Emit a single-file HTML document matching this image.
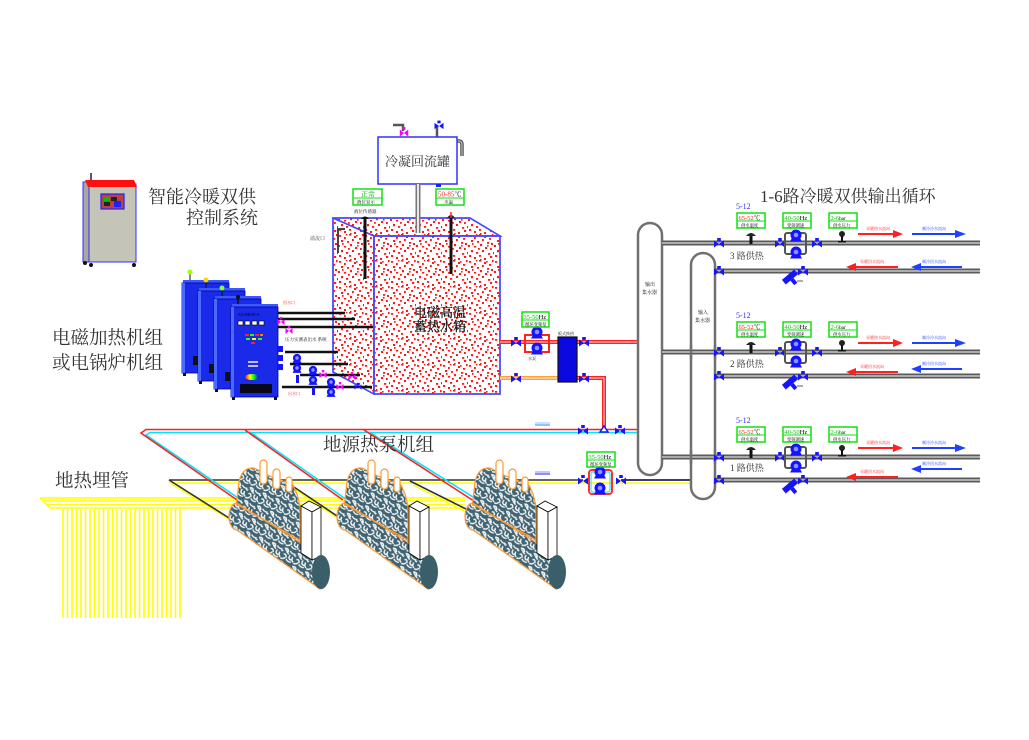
<!DOCTYPE html>
<html><head><meta charset="utf-8">
<style>
html,body{margin:0;padding:0;background:#fff;}
svg{display:block;}
text{font-family:"Liberation Serif","Noto Serif CJK SC",serif;}
.cj{font-family:"Liberation Serif","Noto Serif CJK SC",serif;fill:#333;}
</style></head><body>
<svg width="1029" height="740" viewBox="0 0 1029 740" xmlns="http://www.w3.org/2000/svg">
<defs>
 <pattern id="rs" width="26" height="26" patternUnits="userSpaceOnUse">
  <g fill="#ff1a1a">
   <rect x="1" y="1" width="2.2" height="1.8"/><rect x="6" y="3" width="1.8" height="2.2"/>
   <rect x="11" y="0" width="2.4" height="1.6"/><rect x="16" y="2" width="2" height="2"/>
   <rect x="21" y="4" width="2.2" height="1.8"/><rect x="24" y="0" width="1.6" height="2.2"/>
   <rect x="3" y="6" width="2.2" height="2"/><rect x="9" y="7" width="2" height="1.8"/>
   <rect x="14" y="5" width="1.8" height="2.2"/><rect x="19" y="8" width="2.2" height="1.8"/>
   <rect x="23" y="9" width="2" height="2"/><rect x="0" y="11" width="2" height="2"/>
   <rect x="6" y="12" width="2.2" height="1.6"/><rect x="12" y="10" width="2" height="2.2"/>
   <rect x="17" y="13" width="2.2" height="2"/><rect x="22" y="14" width="1.8" height="2"/>
   <rect x="3" y="16" width="2" height="2.2"/><rect x="8" y="18" width="2.2" height="1.8"/>
   <rect x="14" y="16" width="2" height="2"/><rect x="20" y="19" width="2.2" height="1.8"/>
   <rect x="25" y="18" width="1" height="2.2"/><rect x="1" y="21" width="2.2" height="2"/>
   <rect x="6" y="23" width="2" height="2"/><rect x="11" y="21" width="2.2" height="1.8"/>
   <rect x="16" y="24" width="2" height="2"/><rect x="22" y="22" width="2.2" height="2"/>
   <rect x="10" y="14" width="1.8" height="1.8"/><rect x="18" y="1" width="1.6" height="1.6"/>
   <rect x="4" y="9" width="1.6" height="1.8"/><rect x="12" y="25" width="1.6" height="1"/>
   <rect x="19" y="11" width="1.6" height="1.6"/><rect x="8" y="0" width="1.4" height="1.4"/>
  </g>
 </pattern>
 <pattern id="gs" width="14" height="14" patternUnits="userSpaceOnUse" patternTransform="rotate(23)">
  <rect width="14" height="14" fill="#3f6473"/>
  <path d="M1,1 q3,-1 4,2 q-2,1 -4,-2 Z M7,2 q2,2 5,1 M2,7 q2,-1 3,2 M8,6 q-1,3 2,4 q2,-1 1,-3 M0,12 q3,0 4,-2 M6,11 q2,2 5,1 M11,9 l2,2 M4,4 l2,1 M12,4 q1,1 2,0" stroke="#f4f4f4" stroke-width="1.4" fill="none" stroke-linecap="round"/>
 </pattern>
 <linearGradient id="rb" x1="0" x2="1"><stop offset="0" stop-color="#ff0000"/><stop offset="0.35" stop-color="#ffff00"/><stop offset="0.65" stop-color="#00ff00"/><stop offset="1" stop-color="#0000ff"/></linearGradient>
 <g id="v"><path d="M-5,-3.5 L0,0 L-5,3.5Z M5,-3.5 L0,0 L5,3.5Z" fill="#1414ff"/><rect x="-1.8" y="-6" width="3.6" height="3" fill="#1414ff"/></g>
 <g id="p"><path d="M-6,6.5 L6,6.5 L3.5,2 L-3.5,2Z" fill="#1414ff"/><circle r="5.5" fill="#1414ff"/><circle r="2.3" fill="#9090ff"/></g>
 <g id="mv"><path d="M-3.5,-3 L0,0 L-3.5,3Z M3.5,-3 L0,0 L3.5,3Z" fill="#ff00ff"/><rect x="-1.2" y="-5" width="2.4" height="2.4" fill="#ff00ff"/></g>
 <g id="hp">
  <path d="M236,508 L239,482 Q242,467 254,468 L262,472 L270,476 L278,479 L286,482 L293,485 L297,494 L300,506 L300,542 L236,522 Z" fill="url(#gs)" stroke="#ff9a30" stroke-width="1.2"/>
  <rect x="260" y="460" width="7" height="24" rx="3.5" fill="#fff" stroke="#ff9a30" stroke-width="1.2"/>
  <rect x="273" y="469" width="7" height="20" rx="3.5" fill="#fff" stroke="#ff9a30" stroke-width="1.2"/>
  <rect x="286" y="477" width="6" height="15" rx="3" fill="#fff" stroke="#ff9a30" stroke-width="1.2"/>
  <path d="M237,503 L320,555 A9,17 0 0 1 320,589 L237,530 A8,13.5 0 0 1 237,503 Z" fill="url(#gs)" stroke="#ff9a30" stroke-width="1.2"/>
  <line x1="236" y1="504" x2="300" y2="540" stroke="#ff9a30" stroke-width="1.2"/>
  <path d="M301,506 L309,501 L321,507 L312,512 Z" fill="#fff" stroke="#000" stroke-width="0.8"/>
  <path d="M301,506 L312,512 L312,560 L301,553 Z" fill="#fff" stroke="#000" stroke-width="0.8"/>
  <path d="M312,512 L321,507 L321,556 L312,560 Z" fill="#fff" stroke="#000" stroke-width="0.8"/>
  <ellipse cx="321" cy="572" rx="9" ry="17" fill="#3a5f6a"/>
 </g>
</defs>

<rect width="1029" height="740" fill="#fff"/>

<!-- ground loop yellow -->
<g stroke="#ffff00" stroke-width="1.4" fill="none">
 <line x1="40" y1="498" x2="465" y2="498"/>
 <line x1="44" y1="501" x2="465" y2="501"/>
 <line x1="47" y1="504.5" x2="465" y2="504.5"/>
 <line x1="50" y1="508" x2="465" y2="508"/>
 <line x1="40" y1="498" x2="50" y2="508"/>
 <line x1="169" y1="483" x2="690" y2="483"/>
 <line x1="172" y1="484" x2="240" y2="526"/>
 <line x1="288" y1="485" x2="345" y2="523"/>
 <line x1="413" y1="485" x2="472" y2="515"/>
</g>
<g stroke="#ffff00" stroke-width="1.6">
 <line x1="63" y1="509" x2="63" y2="618"/><line x1="67.5" y1="509" x2="67.5" y2="618"/>
 <line x1="72" y1="509" x2="72" y2="618"/><line x1="76.5" y1="509" x2="76.5" y2="618"/>
 <line x1="81" y1="509" x2="81" y2="618"/><line x1="85.5" y1="509" x2="85.5" y2="618"/>
 <line x1="90" y1="509" x2="90" y2="618"/><line x1="94.5" y1="509" x2="94.5" y2="618"/>
 <line x1="99" y1="509" x2="99" y2="618"/><line x1="103.5" y1="509" x2="103.5" y2="618"/>
 <line x1="108" y1="509" x2="108" y2="618"/><line x1="112.5" y1="509" x2="112.5" y2="618"/>
 <line x1="117" y1="509" x2="117" y2="618"/><line x1="121.5" y1="509" x2="121.5" y2="618"/>
 <line x1="126" y1="509" x2="126" y2="618"/><line x1="130.5" y1="509" x2="130.5" y2="618"/>
 <line x1="135" y1="509" x2="135" y2="618"/><line x1="139.5" y1="509" x2="139.5" y2="618"/>
 <line x1="144" y1="509" x2="144" y2="618"/><line x1="148.5" y1="509" x2="148.5" y2="618"/>
 <line x1="153" y1="509" x2="153" y2="618"/><line x1="157.5" y1="509" x2="157.5" y2="618"/>
 <line x1="162" y1="509" x2="162" y2="618"/><line x1="166.5" y1="509" x2="166.5" y2="618"/>
 <line x1="171" y1="509" x2="171" y2="618"/><line x1="175.5" y1="509" x2="175.5" y2="618"/>
 <line x1="180" y1="509" x2="180" y2="618"/>
</g>

<!-- black source lines -->
<g stroke="#333" stroke-width="1.6" fill="none">
 <line x1="169" y1="480" x2="583" y2="480"/>
 <line x1="169" y1="480" x2="237" y2="523"/>
 <line x1="285" y1="481" x2="343" y2="520"/>
 <line x1="410" y1="481" x2="470" y2="511"/>
</g>
<line x1="621" y1="480" x2="691" y2="480" stroke="#202060" stroke-width="1.8"/>

<!-- red / cyan loops -->
<g fill="none" stroke-width="1.6">
 <polyline points="640,432.5 150,432.5 146,435 241,500" stroke="#00e5ff"/>
 <polyline points="640,429.5 146,429.5 141,433 237,500" stroke="#ff2020"/>
 <line x1="250" y1="432" x2="347" y2="500" stroke="#00e5ff"/>
 <line x1="245" y1="430" x2="343" y2="500" stroke="#ff2020"/>
 <line x1="369" y1="432" x2="481" y2="502" stroke="#00e5ff"/>
 <line x1="364" y1="430" x2="477" y2="503" stroke="#ff2020"/>
</g>

<!-- heat pump units -->
<use href="#hp"/>
<use href="#hp" transform="translate(108,0)"/>
<use href="#hp" transform="translate(236,0)"/>

<!-- labels -->
<text x="148" y="203" font-size="18" class="cj">智能冷暖双供</text>
<text x="186" y="224" font-size="18" class="cj">控制系统</text>
<text x="52" y="344" font-size="18.5" class="cj">电磁加热机组</text>
<text x="52" y="369" font-size="18.5" class="cj">或电锅炉机组</text>
<text x="55" y="487" font-size="18.5" class="cj">地热埋管</text>
<text x="323" y="451" font-size="18.5" class="cj">地源热泵机组</text>
<text x="760" y="202" font-size="17" class="cj">1-6路冷暖双供输出循环</text>

<!-- control cabinet -->
<line x1="91" y1="173" x2="91" y2="181" stroke="#222" stroke-width="1.5"/>
<rect x="83" y="182" width="9" height="80" fill="#a8a8a0" stroke="#3030ff" stroke-width="1"/>
<rect x="89" y="184" width="47" height="78" fill="#c4c4b8" stroke="#3030ff" stroke-width="1"/>
<path d="M85,180 L134,180 L137,187 L88,187 Z" fill="#ff1010"/>
<rect x="101" y="194" width="23" height="15" fill="#c04040" stroke="#2020ff" stroke-width="1.2"/>
<rect x="104" y="197" width="6" height="4" fill="#00c000"/><rect x="111" y="197" width="6" height="4" fill="#222"/>
<rect x="104" y="202" width="6" height="4" fill="#222"/><rect x="114" y="201" width="7" height="6" fill="#2020ff"/>
<circle cx="85" cy="263" r="2" fill="#111"/><circle cx="91" cy="265" r="2" fill="#111"/><circle cx="134" cy="265" r="2" fill="#111"/>

<!-- condensate tank -->
<path d="M393,125 L403,125 L403,131" stroke="#555" stroke-width="2.5" fill="none"/>
<use href="#mv" transform="translate(404,133) scale(1.2)"/>
<line x1="437" y1="137" x2="437" y2="126" stroke="#555" stroke-width="2.5"/>
<use href="#v" transform="translate(439,126) scale(0.9)"/>
<path d="M457,141 L459,141 Q462,141 462,145 L462,156" stroke="#555" stroke-width="3.5" fill="none"/>
<path d="M457,141 L459,141 Q462,141 462,145 L462,156" stroke="#ccc" stroke-width="1" fill="none"/>
<rect x="378" y="137" width="79" height="47" fill="#fff" stroke="#3030ff" stroke-width="1.5"/>
<text x="385" y="166" font-size="13" class="cj">冷凝回流罐</text>
<rect x="436" y="184" width="5" height="3" fill="#2020ff"/>

<!-- storage tank -->
<g stroke="#4848ff" stroke-width="1.5">
 <path d="M333,218 L470,218 L500,236 L374,236 Z" fill="#fff"/>
 <path d="M333,218 L374,236 L374,394 L333,372 Z" fill="#fff"/>
 <rect x="374" y="236" width="126" height="158" fill="#fff"/>
</g>
<path d="M333,218 L470,218 L500,236 L500,394 L374,394 L333,372 Z" fill="url(#rs)"/>
<g stroke="#4848ff" stroke-width="1.5" fill="none">
 <path d="M333,218 L470,218 L500,236 L374,236 Z"/>
 <path d="M333,218 L374,236 L374,394 L333,372 Z"/>
 <rect x="374" y="236" width="126" height="158"/>
</g>
<text x="414" y="317" font-size="13" fill="#1a1a1a" stroke="#1a1a1a" stroke-width="0.3">电磁高温</text>
<text x="414" y="331" font-size="13" fill="#1a1a1a" stroke="#1a1a1a" stroke-width="0.3">蓄热水箱</text>
<!-- tank fittings -->
<path d="M345,229 L338,229 L338,253" stroke="#444" stroke-width="2" fill="none"/>
<text x="310" y="240" font-size="5" fill="#444">溢流口</text>
<rect x="415.5" y="184" width="5" height="49" fill="#777"/>
<rect x="417" y="184" width="2" height="49" fill="#e8e8e8"/>
<path d="M361,219 Q365,214 369,219 Z" fill="#111"/>
<rect x="363.5" y="219" width="3" height="60" fill="#111"/>
<text x="354" y="213" font-size="4.5" fill="#111">液位传感器</text>
<path d="M447,218 Q451,212 455,218 Z" fill="#222"/>
<line x1="451" y1="212" x2="451" y2="222" stroke="#ff2020" stroke-width="1.5"/>
<rect x="449.5" y="218" width="3" height="56" fill="#111"/>
<g transform="translate(353,189)"><rect width="29" height="16" fill="#fff" stroke="#10e010" stroke-width="1.5"/><line x1="0" y1="9" x2="29" y2="9" stroke="#10e010"/><text x="8" y="7.5" font-size="7" fill="#10c010">正常</text><text x="4" y="14.5" font-size="4.5" fill="#000">液位显示</text></g>
<g transform="translate(436,189)"><rect width="28" height="16" fill="#fff" stroke="#10e010" stroke-width="1.5"/><line x1="0" y1="9" x2="28" y2="9" stroke="#10e010"/><text x="2" y="7.5" font-size="7" fill="#ff2020">50-85<tspan fill="#000">℃</tspan></text><text x="8" y="14.5" font-size="4.5" fill="#000">水温</text></g>

<!-- boilers -->
<g>
 <g>
  <rect x="183" y="280" width="46" height="3" fill="#3a5aff"/>
  <rect x="182" y="283" width="47" height="90" fill="#1a2ae8" stroke="#0000a0" stroke-width="0.8"/>
  <rect x="182" y="283" width="3" height="90" fill="#4a6aff"/>
  <line x1="190" y1="280" x2="190" y2="273" stroke="#111"/><circle cx="190" cy="272" r="2.5" fill="#a0ff00"/>
  <rect x="193" y="356" width="5" height="9" fill="#111"/>
  <rect x="183" y="373" width="3" height="3" fill="#111"/>
 </g>
 <g>
  <rect x="199" y="288" width="46" height="3" fill="#3a5aff"/>
  <rect x="198" y="291" width="47" height="90" fill="#1a2ae8" stroke="#0000a0" stroke-width="0.8"/>
  <rect x="198" y="291" width="3" height="90" fill="#4a6aff"/>
  <line x1="206" y1="288" x2="206" y2="281" stroke="#111"/><circle cx="206" cy="280" r="2.5" fill="#ffd000"/>
  <rect x="209" y="364" width="5" height="9" fill="#111"/>
  <rect x="199" y="381" width="3" height="3" fill="#111"/>
 </g>
 <g>
  <rect x="215" y="296" width="46" height="3" fill="#3a5aff"/>
  <rect x="214" y="299" width="47" height="90" fill="#1a2ae8" stroke="#0000a0" stroke-width="0.8"/>
  <rect x="214" y="299" width="3" height="90" fill="#4a6aff"/>
  <line x1="222" y1="296" x2="222" y2="289" stroke="#111"/><circle cx="222" cy="288" r="2.5" fill="#80ff40"/>
  <rect x="225" y="372" width="5" height="9" fill="#111"/>
  <rect x="215" y="389" width="3" height="3" fill="#111"/>
 </g>
 <g>
  <rect x="232" y="304" width="46" height="3" fill="#3a5aff"/>
  <rect x="231" y="307" width="47" height="90" fill="#1a2ae8" stroke="#0000a0" stroke-width="0.8"/>
  <rect x="231" y="307" width="3" height="90" fill="#4a6aff"/>
  <line x1="238" y1="304" x2="238" y2="297" stroke="#111" stroke-width="1.5"/><circle cx="238" cy="297" r="2" fill="#111"/>
  <text x="238" y="316" font-size="4" fill="#000">AX-BBSX-S</text>
  <rect x="238" y="321" width="5" height="4" fill="#fff" stroke="#000" stroke-width="0.6"/>
  <rect x="245" y="321" width="5" height="4" fill="#fff" stroke="#000" stroke-width="0.6"/>
  <rect x="252" y="321" width="5" height="4" fill="#fff" stroke="#000" stroke-width="0.6"/>
  <rect x="259" y="321" width="5" height="4" fill="#fff" stroke="#000" stroke-width="0.6"/>
  <rect x="245" y="334" width="4" height="2" fill="#ff2020"/><rect x="250" y="334" width="4" height="2" fill="#20ff20"/>
  <rect x="255" y="334" width="4" height="2" fill="#ff2020"/><rect x="260" y="334" width="3" height="2" fill="#ff8000"/>
  <rect x="246" y="338" width="4" height="2" fill="#20ff20"/><rect x="252" y="338" width="4" height="2" fill="#ffff00"/>
  <rect x="258" y="338" width="4" height="2" fill="#20ff20"/><rect x="251" y="342" width="4" height="2" fill="#ff2020"/>
  <rect x="248" y="361" width="10" height="2" fill="#c0c0ff"/><rect x="248" y="365" width="10" height="2" fill="#c0c0ff"/>
  <ellipse cx="252" cy="377" rx="7" ry="3" fill="url(#rb)"/>
  <rect x="240" y="384" width="32" height="9" fill="#080818"/>
  <rect x="232" y="397" width="3" height="3" fill="#111"/><rect x="274" y="397" width="3" height="3" fill="#111"/>
 </g>
</g>
<!-- boiler pipes -->
<g stroke="#111" stroke-width="2.5">
 <line x1="278" y1="313" x2="345" y2="313"/>
 <line x1="278" y1="319" x2="355" y2="319"/>
 <line x1="278" y1="327" x2="373" y2="327"/>
 <line x1="285" y1="352" x2="338" y2="352"/>
 <line x1="290" y1="364" x2="348" y2="364"/>
 <line x1="300" y1="375" x2="360" y2="375"/>
 <line x1="282" y1="387" x2="372" y2="387"/>
</g>
<text x="283" y="304" font-size="4" fill="#ff2020">回水口</text>
<text x="288" y="395" font-size="4" fill="#ff2020">出水口</text>
<text x="285" y="341" font-size="4.5" fill="#111">压力实测表出水 系统</text>
<use href="#mv" transform="translate(281,322)"/>
<use href="#mv" transform="translate(289,331)"/>
<use href="#mv" transform="translate(323,375)"/>
<use href="#mv" transform="translate(340,387)"/>
<use href="#mv" transform="translate(352,377)"/>
<g fill="#1414ff">
 <rect x="278" y="346" width="5" height="6"/><rect x="278" y="355" width="5" height="6"/><rect x="278" y="364" width="5" height="6"/>
</g>
<use href="#p" transform="translate(297,358) scale(0.75)"/>
<use href="#p" transform="translate(297,368) scale(0.75)"/>
<use href="#p" transform="translate(313,370) scale(0.75)"/>
<use href="#p" transform="translate(313,380) scale(0.75)"/>
<use href="#p" transform="translate(331,382) scale(0.75)"/>
<use href="#p" transform="translate(331,392) scale(0.75)"/>
<rect x="296" y="375" width="3" height="8" fill="#1414ff"/>
<rect x="312" y="387" width="3" height="8" fill="#1414ff"/>
<use href="#v" transform="translate(358,387) scale(0.7)"/>

<!-- middle section pipes -->
<g fill="none">
 <line x1="500" y1="342" x2="638" y2="342" stroke="#ff2020" stroke-width="4"/>
 <line x1="500" y1="342" x2="638" y2="342" stroke="#ffc0c0" stroke-width="1.2"/>
 <line x1="500" y1="378" x2="558" y2="378" stroke="#ffa040" stroke-width="4"/>
 <line x1="500" y1="378" x2="558" y2="378" stroke="#ffe6c0" stroke-width="1.2"/>
 <polyline points="577,378 604,378 604,430" stroke="#ff2020" stroke-width="4"/>
 <polyline points="577,378 604,378 604,430" stroke="#ffc0c0" stroke-width="1.2"/>
</g>
<rect x="525" y="335" width="24" height="17" fill="none" stroke="#ff2020" stroke-width="2"/>
<use href="#p" transform="translate(537,332)"/>
<use href="#p" transform="translate(537,348)"/>
<text x="528" y="360" font-size="4" fill="#111">水泵</text>
<g transform="translate(522,312)"><rect width="27" height="15" fill="#fff" stroke="#10e010" stroke-width="1.5"/><line x1="0" y1="8" x2="27" y2="8" stroke="#10e010"/><text x="1.5" y="7" font-size="6.5" fill="#10c010">35-50<tspan fill="#000">Hz</tspan></text><text x="3" y="14" font-size="4.3" fill="#000">循环变频泵</text></g>
<rect x="558" y="337" width="19" height="45" fill="#0a0ae0" stroke="#111" stroke-width="1.2"/>
<text x="558" y="335" font-size="4" fill="#111">板式换热</text>
<use href="#v" transform="translate(516,343)"/>
<use href="#v" transform="translate(516,379)"/>
<use href="#v" transform="translate(584,343)"/>
<use href="#v" transform="translate(584,379)"/>
<use href="#v" transform="translate(583,431)"/>
<use href="#v" transform="translate(620,431)"/>
<path d="M600,432 L604,426 L608,432 Z" fill="#fff" stroke="#1414ff" stroke-width="1.5"/>
<line x1="535" y1="425" x2="550" y2="425" stroke="#40a0ff" stroke-width="1.2"/>
<line x1="535" y1="423" x2="550" y2="423" stroke="#40a0ff" stroke-width="0.6"/>
<line x1="535" y1="474" x2="550" y2="474" stroke="#4040ff" stroke-width="1.2"/>
<line x1="535" y1="472" x2="550" y2="472" stroke="#4040ff" stroke-width="0.6"/>
<!-- ground pump -->
<rect x="589" y="470" width="23" height="24" rx="3" fill="none" stroke="#ff3030" stroke-width="2"/>
<rect x="591" y="472" width="19" height="20" rx="2" fill="none" stroke="#00e5ff" stroke-width="1"/>
<use href="#p" transform="translate(600,472)"/>
<use href="#p" transform="translate(600,488)"/>
<use href="#v" transform="translate(583,481)"/>
<use href="#v" transform="translate(621,481)"/>
<g transform="translate(587,452)"><rect width="28" height="15" fill="#fff" stroke="#10e010" stroke-width="1.5"/><line x1="0" y1="8" x2="28" y2="8" stroke="#10e010"/><text x="1.5" y="7" font-size="6.5" fill="#10c010">35-50<tspan fill="#000">Hz</tspan></text><text x="3" y="14" font-size="4.3" fill="#000">循环变频泵</text></g>

<!-- headers -->
<rect x="638" y="223" width="24" height="252" rx="12" fill="#fff" stroke="#707070" stroke-width="2.5"/>
<rect x="691" y="253" width="24" height="246" rx="12" fill="#fff" stroke="#707070" stroke-width="2.5"/>
<text x="645" y="286" font-size="5" fill="#111">输出</text>
<text x="642" y="294" font-size="5" fill="#111">集水器</text>
<text x="698" y="314" font-size="5" fill="#111">输入</text>
<text x="695" y="322" font-size="5" fill="#111">集水器</text>

<!-- circuit pipes -->
<g stroke="#5a5a5a" stroke-width="5">
 <line x1="662" y1="243" x2="980" y2="243"/>
 <line x1="715" y1="271" x2="980" y2="271"/>
 <line x1="662" y1="352" x2="980" y2="352"/>
 <line x1="715" y1="376" x2="980" y2="376"/>
 <line x1="662" y1="457" x2="980" y2="457"/>
 <line x1="715" y1="480" x2="980" y2="480"/>
</g>
<g stroke="#c8c8c8" stroke-width="1.4">
 <line x1="662" y1="243" x2="980" y2="243"/>
 <line x1="715" y1="271" x2="980" y2="271"/>
 <line x1="662" y1="352" x2="980" y2="352"/>
 <line x1="715" y1="376" x2="980" y2="376"/>
 <line x1="662" y1="457" x2="980" y2="457"/>
 <line x1="715" y1="480" x2="980" y2="480"/>
</g>
<g stroke="#707070" stroke-width="2.5">
 <line x1="691" y1="345" x2="691" y2="359"/><line x1="715" y1="345" x2="715" y2="359"/>
 <line x1="691" y1="450" x2="691" y2="464"/><line x1="715" y1="450" x2="715" y2="464"/>
</g>

<!-- row 1 supply -->
<g>
 <text x="736" y="209" font-size="8" fill="#3030ff">5-12</text>
 <g transform="translate(737,213)"><rect width="28" height="15" fill="#fff" stroke="#10e010" stroke-width="1.5"/><line x1="0" y1="8" x2="28" y2="8" stroke="#10e010"/><text x="1.5" y="7" font-size="6.5" fill="#ff2020">65-52<tspan fill="#000">℃</tspan></text><text x="4" y="14" font-size="4.3" fill="#000">供水温度</text></g>
 <g transform="translate(783,213)"><rect width="28" height="15" fill="#fff" stroke="#10e010" stroke-width="1.5"/><line x1="0" y1="8" x2="28" y2="8" stroke="#10e010"/><text x="1.5" y="7" font-size="6.5" fill="#10c010">40-50<tspan fill="#000">Hz</tspan></text><text x="4" y="14" font-size="4.3" fill="#000">变频调速</text></g>
 <g transform="translate(829,213)"><rect width="28" height="15" fill="#fff" stroke="#10e010" stroke-width="1.5"/><line x1="0" y1="8" x2="28" y2="8" stroke="#10e010"/><text x="1.5" y="7" font-size="6.5" fill="#10c010">2-6<tspan fill="#000" font-size="5">bar</tspan></text><text x="4" y="14" font-size="4.3" fill="#000">供水压力</text></g>
 <path d="M746,236 Q751,230 756,236 Z" fill="#222"/>
 <rect x="749.5" y="236" width="3" height="8" fill="#111"/>
 <circle cx="842" cy="234" r="3" fill="#222"/>
 <rect x="841" y="236" width="2" height="6" fill="#111"/>
 <rect x="838" y="241" width="8" height="1.5" fill="#111"/>
 <use href="#v" transform="translate(719,244)"/>
 <use href="#v" transform="translate(780,244)"/>
 <use href="#v" transform="translate(817,244)"/>
 <rect x="785" y="233" width="21" height="21" rx="2" fill="none" stroke="#555" stroke-width="2"/>
 <use href="#p" transform="translate(796,235)"/>
 <use href="#p" transform="translate(796,252)"/>
 <line x1="858" y1="234" x2="896" y2="234" stroke="#ff2020" stroke-width="2"/>
 <path d="M893,230 L903,234 L893,238 Z" fill="#ff2020"/>
 <text x="866" y="230" font-size="4" fill="#ff2020">采暖热水流向</text>
 <line x1="912" y1="234" x2="958" y2="234" stroke="#2040ff" stroke-width="2"/>
 <path d="M955,230 L966,234 L955,238 Z" fill="#2040ff"/>
 <text x="922" y="230" font-size="4" fill="#2040ff">制冷冷水流向</text>
 <text x="730" y="259" font-size="9" class="cj">3 路供热</text>
</g>
<g>
 <use href="#v" transform="translate(719,272)"/>
 <use href="#v" transform="translate(803,272)"/>
 <g transform="translate(790,277) rotate(-40)"><rect x="-8" y="-3" width="16" height="6" fill="#1414ff"/><rect x="-2" y="3" width="4" height="6" fill="#1414ff"/></g>
 <line x1="797" y1="281" x2="803" y2="281" stroke="#333" stroke-width="0.8"/>
 <line x1="853" y1="267" x2="898" y2="267" stroke="#ff2020" stroke-width="2"/>
 <path d="M856,263 L846,267 L856,271 Z" fill="#ff2020"/>
 <text x="860" y="263" font-size="4" fill="#ff2020">采暖回水流向</text>
 <line x1="918" y1="267" x2="962" y2="267" stroke="#2040ff" stroke-width="2"/>
 <path d="M921,263 L911,267 L921,271 Z" fill="#2040ff"/>
 <text x="922" y="263" font-size="4" fill="#2040ff">制冷回水流向</text>
</g>

<!-- row 2 -->
<g transform="translate(0,109)">
 <text x="736" y="209" font-size="8" fill="#3030ff">5-12</text>
 <g transform="translate(737,213)"><rect width="28" height="15" fill="#fff" stroke="#10e010" stroke-width="1.5"/><line x1="0" y1="8" x2="28" y2="8" stroke="#10e010"/><text x="1.5" y="7" font-size="6.5" fill="#ff2020">65-52<tspan fill="#000">℃</tspan></text><text x="4" y="14" font-size="4.3" fill="#000">供水温度</text></g>
 <g transform="translate(783,213)"><rect width="28" height="15" fill="#fff" stroke="#10e010" stroke-width="1.5"/><line x1="0" y1="8" x2="28" y2="8" stroke="#10e010"/><text x="1.5" y="7" font-size="6.5" fill="#10c010">40-50<tspan fill="#000">Hz</tspan></text><text x="4" y="14" font-size="4.3" fill="#000">变频调速</text></g>
 <g transform="translate(829,213)"><rect width="28" height="15" fill="#fff" stroke="#10e010" stroke-width="1.5"/><line x1="0" y1="8" x2="28" y2="8" stroke="#10e010"/><text x="1.5" y="7" font-size="6.5" fill="#10c010">2-6<tspan fill="#000" font-size="5">bar</tspan></text><text x="4" y="14" font-size="4.3" fill="#000">供水压力</text></g>
 <path d="M746,236 Q751,230 756,236 Z" fill="#222"/>
 <rect x="749.5" y="236" width="3" height="8" fill="#111"/>
 <circle cx="842" cy="234" r="3" fill="#222"/>
 <rect x="841" y="236" width="2" height="6" fill="#111"/>
 <rect x="838" y="241" width="8" height="1.5" fill="#111"/>
 <use href="#v" transform="translate(719,244)"/>
 <use href="#v" transform="translate(780,244)"/>
 <use href="#v" transform="translate(817,244)"/>
 <rect x="785" y="233" width="21" height="21" rx="2" fill="none" stroke="#555" stroke-width="2"/>
 <use href="#p" transform="translate(796,235)"/>
 <use href="#p" transform="translate(796,252)"/>
 <line x1="858" y1="234" x2="896" y2="234" stroke="#ff2020" stroke-width="2"/>
 <path d="M893,230 L903,234 L893,238 Z" fill="#ff2020"/>
 <text x="866" y="230" font-size="4" fill="#ff2020">采暖热水流向</text>
 <line x1="912" y1="234" x2="958" y2="234" stroke="#2040ff" stroke-width="2"/>
 <path d="M955,230 L966,234 L955,238 Z" fill="#2040ff"/>
 <text x="922" y="230" font-size="4" fill="#2040ff">制冷冷水流向</text>
 <text x="730" y="258" font-size="9" class="cj">2 路供热</text>
</g>
<g transform="translate(0,105)">
 <use href="#v" transform="translate(719,272)"/>
 <use href="#v" transform="translate(803,272)"/>
 <g transform="translate(790,277) rotate(-40)"><rect x="-8" y="-3" width="16" height="6" fill="#1414ff"/><rect x="-2" y="3" width="4" height="6" fill="#1414ff"/></g>
 <line x1="797" y1="281" x2="803" y2="281" stroke="#333" stroke-width="0.8"/>
 <line x1="853" y1="267" x2="898" y2="267" stroke="#ff2020" stroke-width="2"/>
 <path d="M856,263 L846,267 L856,271 Z" fill="#ff2020"/>
 <text x="860" y="263" font-size="4" fill="#ff2020">采暖回水流向</text>
 <line x1="918" y1="264" x2="962" y2="264" stroke="#2040ff" stroke-width="2"/>
 <path d="M921,260 L911,264 L921,268 Z" fill="#2040ff"/>
 <text x="922" y="260" font-size="4" fill="#2040ff">制冷回水流向</text>
</g>

<!-- row 3 -->
<g transform="translate(0,214)">
 <text x="736" y="209" font-size="8" fill="#3030ff">5-12</text>
 <g transform="translate(737,213)"><rect width="28" height="15" fill="#fff" stroke="#10e010" stroke-width="1.5"/><line x1="0" y1="8" x2="28" y2="8" stroke="#10e010"/><text x="1.5" y="7" font-size="6.5" fill="#ff2020">65-52<tspan fill="#000">℃</tspan></text><text x="4" y="14" font-size="4.3" fill="#000">供水温度</text></g>
 <g transform="translate(783,213)"><rect width="28" height="15" fill="#fff" stroke="#10e010" stroke-width="1.5"/><line x1="0" y1="8" x2="28" y2="8" stroke="#10e010"/><text x="1.5" y="7" font-size="6.5" fill="#10c010">40-50<tspan fill="#000">Hz</tspan></text><text x="4" y="14" font-size="4.3" fill="#000">变频调速</text></g>
 <g transform="translate(829,213)"><rect width="28" height="15" fill="#fff" stroke="#10e010" stroke-width="1.5"/><line x1="0" y1="8" x2="28" y2="8" stroke="#10e010"/><text x="1.5" y="7" font-size="6.5" fill="#10c010">2-6<tspan fill="#000" font-size="5">bar</tspan></text><text x="4" y="14" font-size="4.3" fill="#000">供水压力</text></g>
 <path d="M746,236 Q751,230 756,236 Z" fill="#222"/>
 <rect x="749.5" y="236" width="3" height="8" fill="#111"/>
 <circle cx="842" cy="234" r="3" fill="#222"/>
 <rect x="841" y="236" width="2" height="6" fill="#111"/>
 <rect x="838" y="241" width="8" height="1.5" fill="#111"/>
 <use href="#v" transform="translate(719,244)"/>
 <use href="#v" transform="translate(780,244)"/>
 <use href="#v" transform="translate(817,244)"/>
 <rect x="785" y="233" width="21" height="21" rx="2" fill="none" stroke="#555" stroke-width="2"/>
 <use href="#p" transform="translate(796,235)"/>
 <use href="#p" transform="translate(796,252)"/>
 <line x1="858" y1="234" x2="896" y2="234" stroke="#ff2020" stroke-width="2"/>
 <path d="M893,230 L903,234 L893,238 Z" fill="#ff2020"/>
 <text x="866" y="230" font-size="4" fill="#ff2020">采暖热水流向</text>
 <line x1="912" y1="234" x2="958" y2="234" stroke="#2040ff" stroke-width="2"/>
 <path d="M955,230 L966,234 L955,238 Z" fill="#2040ff"/>
 <text x="922" y="230" font-size="4" fill="#2040ff">制冷冷水流向</text>
 <text x="730" y="257" font-size="9" class="cj">1 路供热</text>
</g>
<g transform="translate(0,209)">
 <use href="#v" transform="translate(719,272)"/>
 <use href="#v" transform="translate(803,272)"/>
 <g transform="translate(790,277) rotate(-40)"><rect x="-8" y="-3" width="16" height="6" fill="#1414ff"/><rect x="-2" y="3" width="4" height="6" fill="#1414ff"/></g>
 <line x1="853" y1="268" x2="898" y2="268" stroke="#ff2020" stroke-width="2"/>
 <path d="M856,264 L846,268 L856,272 Z" fill="#ff2020"/>
 <text x="860" y="264" font-size="4" fill="#ff2020">采暖回水流向</text>
 <line x1="918" y1="260" x2="962" y2="260" stroke="#2040ff" stroke-width="2"/>
 <path d="M921,256 L911,260 L921,264 Z" fill="#2040ff"/>
 <text x="922" y="256" font-size="4" fill="#2040ff">制冷回水流向</text>
</g>
</svg>
</body></html>
